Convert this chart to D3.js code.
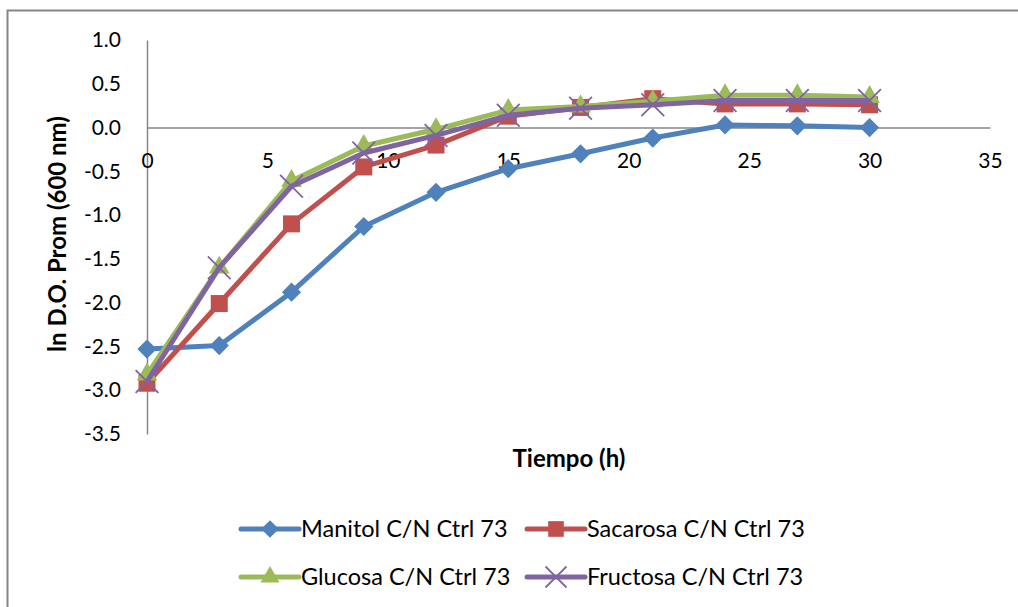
<!DOCTYPE html>
<meta charset="utf-8">
<style>
  body { margin: 0; background: #fff; }
  text { font-family: Lato, "Open Sans", sans-serif; fill: #000; }
</style>
<body>
<svg id="chart" width="1018" height="607"></svg>
</body>
<script src="https://d3js.org/d3.v7.min.js"></script>
<script>

var tiempo = [0, 3, 6, 9, 12, 15, 18, 21, 24, 27, 30];
var manitol  = [-2.53, -2.49, -1.88, -1.13, -0.74, -0.47, -0.30, -0.12, 0.03, 0.02, 0.00];
var sacarosa = [-2.92, -2.01, -1.10, -0.45, -0.20, 0.13, 0.23, 0.33, 0.27, 0.27, 0.26];
var glucosa  = [-2.82, -1.60, -0.61, -0.21, -0.02, 0.20, 0.24, 0.30, 0.37, 0.37, 0.35];
var fructosa = [-2.90, -1.60, -0.67, -0.29, -0.09, 0.14, 0.22, 0.26, 0.31, 0.31, 0.31];
var names = ["Manitol C/N Ctrl 73", "Sacarosa C/N Ctrl 73", "Glucosa C/N Ctrl 73", "Fructosa C/N Ctrl 73"];
var xTicks = [0, 5, 10, 15, 20, 25, 30, 35];
var yTicks = [1.0, 0.5, 0.0, -0.5, -1.0, -1.5, -2.0, -2.5, -3.0, -3.5];

var colors = ["#4F81BD", "#C0504D", "#9BBB59", "#8064A2"];
// diamond = square turned 45deg
var shapes = [d3.symbolSquare, d3.symbolSquare, d3.symbolTriangle, d3.symbolX];
var sizes = [185, 289, 185, 340];
var rot = [45, 0, 0, 0];

var series = [manitol, sacarosa, glucosa, fructosa].map(function(vals, i) {
  return { name: names[i], color: colors[i], shape: shapes[i], size: sizes[i], rot: rot[i],
           values: vals.map(function(v, j) { return { t: tiempo[j], v: v }; }) };
});

var svg = d3.select("#chart");

// outer frame (only top and left visible in the reference)
svg.append("rect")
    .attr("x", 7.5).attr("y", 10.5)
    .attr("width", 1200).attr("height", 800)
    .attr("fill", "none").attr("stroke", "#868686").attr("stroke-width", 2);

var x = d3.scaleLinear().domain([0, 35]).range([147, 990]);
var y = d3.scaleLinear().domain([-3.5, 1.0]).range([434, 40]);

// y axis
var yAxis = svg.append("g")
    .attr("transform", "translate(147,0)")
    .call(d3.axisLeft(y).tickValues(yTicks).tickSize(0).tickPadding(26));
yAxis.select(".domain").attr("stroke", "#868686").attr("stroke-width", 1.5);
yAxis.selectAll("text").style("font-size", "21px").style("font-family", "Lato, sans-serif")
    .text(function(d) { return d3.format(".1f")(d).replace("−", "-"); });

// x axis at y = 0
var xAxis = svg.append("g")
    .attr("transform", "translate(0," + y(0) + ")")
    .call(d3.axisBottom(x).tickValues(xTicks).tickSize(0).tickPadding(26));
xAxis.select(".domain").attr("stroke", "#868686").attr("stroke-width", 1.5);
xAxis.selectAll("text").style("font-size", "21px").style("font-family", "Lato, sans-serif");

// axis titles
svg.append("text")
    .attr("transform", "translate(66,234) rotate(-90)")
    .attr("text-anchor", "middle")
    .style("font-size", "24px").style("font-weight", "bold")
    .text("ln D.O. Prom (600 nm)");

svg.append("text")
    .attr("x", 569).attr("y", 467)
    .attr("text-anchor", "middle")
    .style("font-size", "24px").style("font-weight", "bold")
    .text("Tiempo (h)");

var line = d3.line()
    .x(function(d) { return x(d.t); })
    .y(function(d) { return y(d.v); });

var g = svg.selectAll(".serie")
    .data(series)
    .enter().append("g")
    .attr("class", "serie");

g.append("path")
    .attr("d", function(d) { return line(d.values); })
    .attr("fill", "none")
    .attr("stroke", function(d) { return d.color; })
    .attr("stroke-width", 5)
    .attr("stroke-linejoin", "round");

g.each(function(s) {
  d3.select(this).selectAll(".pt")
    .data(s.values)
    .enter().append("path")
    .attr("class", "pt")
    .attr("transform", function(d) { return "translate(" + x(d.t) + "," + y(d.v) + ") rotate(" + s.rot + ")"; })
    .attr("d", d3.symbol().type(s.shape).size(s.size))
    .attr("fill", s.shape === d3.symbolX ? "none" : s.color)
    .attr("stroke", s.color)
    .attr("stroke-width", s.shape === d3.symbolX ? 1.8 : 0);
});

// legend
var legendPos = [[241, 529], [527, 529], [241, 577], [527, 577]];
var legend = svg.selectAll(".legend")
    .data(series)
    .enter().append("g")
    .attr("class", "legend")
    .attr("transform", function(d, i) { return "translate(" + legendPos[i][0] + "," + legendPos[i][1] + ")"; });

legend.append("line")
    .attr("x1", 0).attr("x2", 58)
    .attr("stroke", function(d) { return d.color; })
    .attr("stroke-width", 5)
    .attr("stroke-linecap", "round");

legend.append("path")
    .attr("transform", function(d) { return "translate(29,0) rotate(" + d.rot + ")"; })
    .attr("d", function(d) { return d3.symbol().type(d.shape).size(d.size * 0.85)(); })
    .attr("fill", function(d) { return d.shape === d3.symbolX ? "none" : d.color; })
    .attr("stroke", function(d) { return d.color; })
    .attr("stroke-width", function(d) { return d.shape === d3.symbolX ? 1.8 : 0; });

legend.append("text")
    .attr("x", 60)
    .attr("dy", "0.35em")
    .style("font-size", "23.5px")
    .text(function(d) { return d.name; });

</script>
